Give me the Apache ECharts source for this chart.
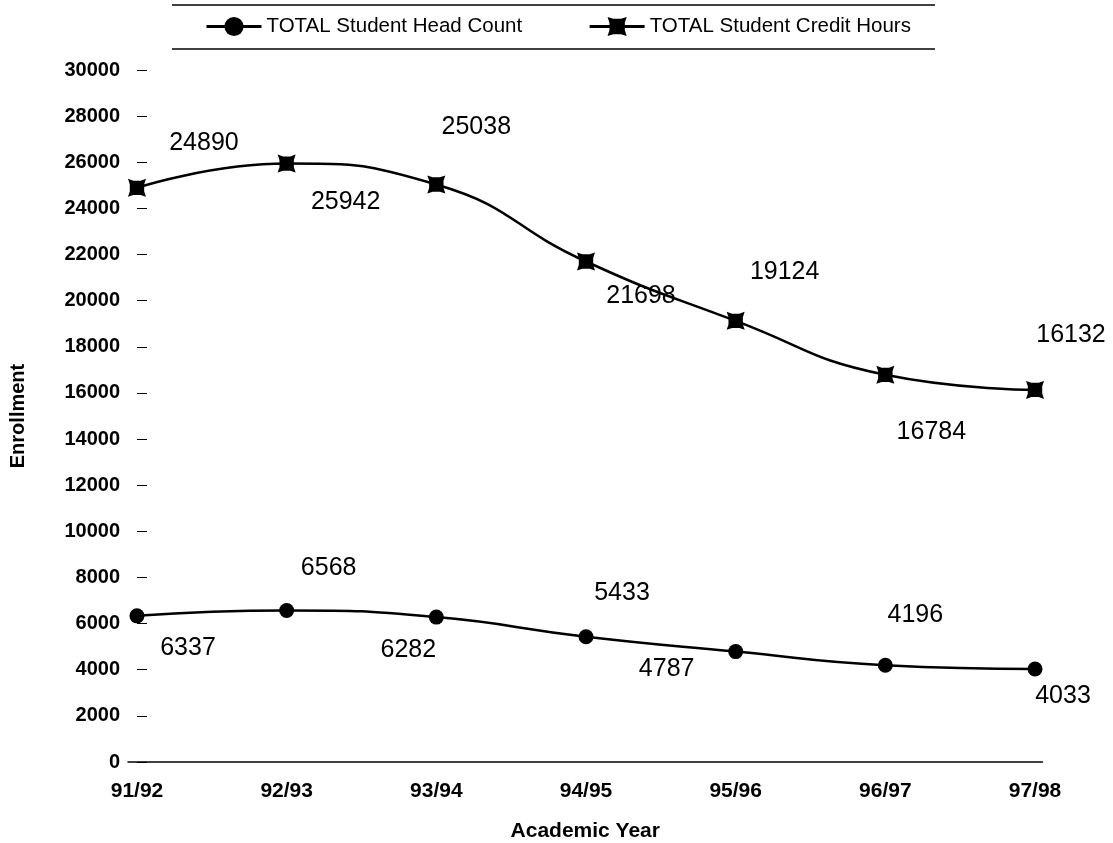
<!DOCTYPE html>
<html>
<head>
<meta charset="utf-8">
<title>Enrollment by Academic Year</title>
<script src="https://cdn.jsdelivr.net/npm/echarts@6/dist/echarts.min.js"></script>
<style>
  html, body { margin: 0; padding: 0; background: #fff; }
  #chart { width: 1113px; height: 843px; }
</style>
</head>
<body>
<div id="chart"></div>
<script>
// Academic years on the horizontal axis
const years = ['91/92', '92/93', '93/94', '94/95', '95/96', '96/97', '97/98'];
// Enrollment figures per year
const headCount = [6337, 6568, 6282, 5433, 4787, 4196, 4033];
const creditHours = [24890, 25942, 25038, 21698, 19124, 16784, 16132];
// Vertical axis range
const yMin = 0;
const yMax = 30000;
const yStep = 2000;

// Where each value label sits relative to its point (px)
const headLabelOffsets = [[51, 32], [42, -42], [-28, 33], [36, -44], [-69, 18], [30, -50], [28, 27]];
const creditLabelOffsets = [[67, -45], [59, 39], [40, -57], [55, 35], [49, -49], [46, 57], [36, -55]];

const FONT = "'Liberation Sans', Arial, sans-serif";
// Square marker with slightly pointed corners
const starSquare = 'path://M0,0 L3,1 L7,1 L10,0 L9,3 L9,7 L10,10 L7,9 L3,9 L0,10 L1,7 L1,3 Z';

function withLabels(values, offsets) {
  return values.map((v, i) => ({
    value: [i, v],
    label: { offset: offsets[i] }
  }));
}

const labelStyle = {
  show: true,
  position: 'inside',
  fontFamily: FONT,
  fontSize: 25,
  color: '#000',
  formatter: p => String(p.value[1])
};

const chart = echarts.init(document.getElementById('chart'), null, { renderer: 'canvas' });

chart.setOption({
  backgroundColor: '#fff',
  animation: false,
  textStyle: { fontFamily: FONT },
  grid: { left: 128, right: 70.5, top: 70, bottom: 81, containLabel: false, outerBoundsMode: 'none' },
  legend: {
    left: 205,
    top: 16,
    padding: 0,
    itemWidth: 55,
    itemHeight: 24,
    itemGap: 66,
    lineStyle: { width: 3 },
    textStyle: { fontFamily: FONT, fontSize: 20.5, color: '#000' },
    data: ['TOTAL Student Head Count', 'TOTAL Student Credit Hours']
  },
  graphic: [
    { type: 'line', shape: { x1: 172, y1: 5, x2: 935, y2: 5 }, style: { stroke: '#000', lineWidth: 1.5 } },
    { type: 'line', shape: { x1: 172, y1: 49, x2: 935, y2: 49 }, style: { stroke: '#000', lineWidth: 1.5 } }
  ],
  xAxis: {
    type: 'value',
    min: -0.06,
    max: 6.05,
    name: 'Academic Year',
    nameLocation: 'middle',
    nameGap: 59,
    nameMoveOverlap: false,
    nameTextStyle: { fontFamily: FONT, fontSize: 21, fontWeight: 'bold', color: '#000' },
    axisLine: { show: true, onZero: false, lineStyle: { color: '#000', width: 1.5 } },
    axisTick: { show: false },
    splitLine: { show: false },
    axisLabel: {
      customValues: years.map((_, i) => i),
      formatter: v => years[Math.round(v)],
      margin: 19,
      fontFamily: FONT,
      fontSize: 21,
      fontWeight: 'bold',
      color: '#000'
    }
  },
  yAxis: {
    type: 'value',
    min: yMin,
    max: yMax,
    interval: yStep,
    name: 'Enrollment',
    nameLocation: 'middle',
    nameGap: 100,
    nameRotate: 90,
    nameTextStyle: { fontFamily: FONT, fontSize: 20, fontWeight: 'bold', color: '#000' },
    axisLine: { show: false },
    axisTick: { show: true, inside: true, length: 10, lineStyle: { color: '#000', width: 1 } },
    splitLine: { show: false },
    axisLabel: {
      margin: 8,
      formatter: v => String(v),
      fontFamily: FONT,
      fontSize: 20,
      fontWeight: 'bold',
      color: '#000'
    }
  },
  series: [
    {
      name: 'TOTAL Student Head Count',
      type: 'line',
      smooth: true,
      symbol: 'circle',
      symbolSize: 15,
      itemStyle: { color: '#000' },
      lineStyle: { color: '#000', width: 2.5 },
      label: labelStyle,
      data: withLabels(headCount, headLabelOffsets)
    },
    {
      name: 'TOTAL Student Credit Hours',
      type: 'line',
      smooth: true,
      symbol: starSquare,
      symbolSize: 18,
      itemStyle: { color: '#000' },
      lineStyle: { color: '#000', width: 2.5 },
      label: labelStyle,
      data: withLabels(creditHours, creditLabelOffsets)
    }
  ]
});
</script>
</body>
</html>
